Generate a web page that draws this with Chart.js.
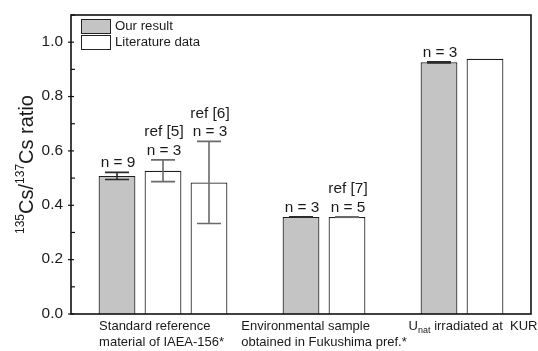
<!DOCTYPE html>
<html><head><meta charset="utf-8">
<script src="https://cdn.jsdelivr.net/npm/chart.js@4"></script>
<style>html,body{margin:0;padding:0;background:#fff}#wrap{width:538px;height:351px}</style>
</head><body><div id="wrap"><canvas id="c" width="538" height="351"></canvas></div>
<script>
// ---- data ----
const slots = ['', 'IAEA-156 our', 'IAEA-156 ref [5]', 'IAEA-156 ref [6]', '', 'Fukushima our', 'Fukushima ref [7]', '', 'KUR our', 'KUR literature', ''];
const ourResult  = [null, 0.508, null, null, null, 0.357, null, null, 0.926, null, null];
const ourError   = [null, 0.013, null, null, null, 0.001, null, null, 0.002, null, null];
const literature = [null, null, 0.527, 0.484, null, null, 0.357, null, null, 0.939, null];
const litError   = [null, null, 0.040, 0.151, null, null, 0.001, null, null, null, null];
const barNotes   = [null, ['n = 9'], ['ref [5]', 'n = 3'], ['ref [6]', 'n = 3'], null, ['n = 3'], ['ref [7]', 'n = 5'], null, ['n = 3'], null, null];
const groupLabels = [
  ['Standard reference', 'material of IAEA-156*'],
  ['Environmental sample', 'obtained in Fukushima pref.*'],
  ['U_{nat} irradiated at  KUR']
];
const groupAnchor = [1.97, 5.5, 8.74];
const seriesNames = ['Our result', 'Literature data'];
const yTitle = [['135', 'sup'], ['Cs/', 'n'], ['137', 'sup'], ['Cs ratio', 'n']];

// ---- helpers ----
const FONT = '"Liberation Sans", Arial, sans-serif';
const SX = 1.1;
function txt(ctx, s, x, y, align, size, sx) {
  sx = sx || SX;
  ctx.save();
  ctx.font = size + 'px ' + FONT;
  const w = ctx.measureText(s).width * sx;
  const x0 = align === 'center' ? x - w / 2 : align === 'right' ? x - w : x;
  ctx.translate(x0, y); ctx.scale(sx, 1);
  ctx.textAlign = 'left';
  ctx.fillText(s, 0, 0);
  ctx.restore();
  return w;
}
function measure(ctx, s, size, sx) { ctx.save(); ctx.font = size + 'px ' + FONT; const w = ctx.measureText(s).width * (sx || SX); ctx.restore(); return w; }
function parseRich(line) {
  const parts = []; const re = /_\{([^}]*)\}/g; let last = 0, m;
  while ((m = re.exec(line))) { if (m.index > last) parts.push([line.slice(last, m.index), 'n']); parts.push([m[1], 'sub']); last = re.lastIndex; }
  if (last < line.length) parts.push([line.slice(last), 'n']);
  return parts;
}

const errorPlugin = {
  id: 'errs',
  afterDatasetsDraw(chart) {
    const ctx = chart.ctx, ys = chart.scales.y;
    const errs = [ourError, litError];
    const cols = ['#2a2a2a', '#6a6a6a'];
    chart.data.datasets.forEach((ds, i) => {
      const meta = chart.getDatasetMeta(i);
      meta.data.forEach((el, j) => {
        const v = ds.data[j], e = errs[i][j];
        if (v == null || e == null) return;
        const yt = ys.getPixelForValue(v + e), yb = ys.getPixelForValue(v - e);
        ctx.save();
        ctx.strokeStyle = cols[i]; ctx.lineWidth = 1.6;
        ctx.beginPath();
        ctx.moveTo(el.x, yt); ctx.lineTo(el.x, yb);
        ctx.moveTo(el.x - 12, yt); ctx.lineTo(el.x + 12, yt);
        ctx.moveTo(el.x - 12, yb); ctx.lineTo(el.x + 12, yb);
        ctx.stroke();
        ctx.restore();
      });
    });
  },
  afterDraw(chart) {
    const ctx = chart.ctx, a = chart.chartArea, xs = chart.scales.x, ys = chart.scales.y;
    ctx.save();
    ctx.fillStyle = '#1a1a1a';
    ctx.textBaseline = 'alphabetic';
    // frame
    ctx.strokeStyle = '#111'; ctx.lineWidth = 1.6;
    ctx.strokeRect(a.left, a.top, a.right - a.left, a.bottom - a.top);
    // y ticks
    ctx.lineWidth = 1.2;
    ys.ticks.forEach(t => {
      const y = ys.getPixelForValue(t.value);
      const major = Math.round(t.value * 10) % 2 === 0;
      ctx.beginPath();
      if (major) { ctx.moveTo(a.left - 3, y); ctx.lineTo(a.left + 3, y); }
      else { ctx.moveTo(a.left, y); ctx.lineTo(a.left + 4, y); }
      ctx.stroke();
      if (major) { ctx.textBaseline = 'middle'; txt(ctx, t.value.toFixed(1), a.left - 8, y, 'right', 14); }
    });
    ctx.textBaseline = 'alphabetic';
    // notes above bars
    const errs = [ourError, litError];
    barNotes.forEach((lines, j) => {
      if (!lines) return;
      let top = -Infinity;
      chart.data.datasets.forEach((ds, i) => { const v = ds.data[j]; if (v != null) top = Math.max(top, v + (errs[i][j] || 0)); });
      const base = ys.getPixelForValue(top) - 5;
      const x = xs.getPixelForValue(j);
      lines.forEach((s, k) => txt(ctx, s, x + 1, base - (lines.length - 1 - k) * 18.5, 'center', 14));
    });
    // x group labels
    groupLabels.forEach((lines, g) => {
      const cx = xs.getPixelForValue(groupAnchor[g]);
      const widths = lines.map(l => parseRich(l).reduce((s, p) => s + measure(ctx, p[0], p[1] === 'sub' ? 9 : 13, 1), 0));
      const left = cx - Math.max(...widths) / 2;
      lines.forEach((l, k) => {
        let x = left; const y = a.bottom + 16 + k * 16;
        parseRich(l).forEach(p => {
          if (p[1] === 'sub') x += txt(ctx, p[0], x, y + 3, 'left', 9, 1);
          else x += txt(ctx, p[0], x, y, 'left', 13, 1);
        });
      });
    });
    // legend
    chart.data.datasets.forEach((ds, i) => {
      const y = a.top + 4 + i * 16;
      ctx.fillStyle = ds.backgroundColor; ctx.fillRect(a.left + 10, y, 29, 14);
      ctx.strokeStyle = '#222'; ctx.lineWidth = 1; ctx.strokeRect(a.left + 10.5, y + 0.5, 29, 14);
      ctx.fillStyle = '#1a1a1a'; ctx.textBaseline = 'middle';
      txt(ctx, ds.label, a.left + 44, y + 7.5, 'left', 12);
    });
    // y title
    ctx.textBaseline = 'alphabetic';
    ctx.translate(33, (a.top + a.bottom) / 2);
    ctx.rotate(-Math.PI / 2);
    const sizes = p => p[1] === 'sup' ? 12 : 20;
    const total = yTitle.reduce((s, p) => s + measure(ctx, p[0], sizes(p), 1), 0);
    let x = -total / 2;
    yTitle.forEach(p => { x += txt(ctx, p[0], x, p[1] === 'sup' ? -9 : 0, 'left', sizes(p), 1); });
    ctx.restore();
  }
};

new Chart(document.getElementById('c'), {
  type: 'bar',
  data: {
    labels: slots,
    datasets: [
      { label: seriesNames[0], data: ourResult, backgroundColor: '#c4c4c4', borderColor: '#1e1e1e', borderWidth: 1.2, barPercentage: 0.8, categoryPercentage: 1.0 },
      { label: seriesNames[1], data: literature, backgroundColor: '#ffffff', borderColor: '#1e1e1e', borderWidth: 1.2, barPercentage: 0.8, categoryPercentage: 1.0 }
    ]
  },
  options: {
    responsive: false, animation: false, devicePixelRatio: 1,
    layout: { padding: { top: 15, right: 7, left: 0, bottom: 0 } },
    plugins: { legend: { display: false }, tooltip: { enabled: false } },
    scales: {
      x: { type: 'category', offset: false, stacked: true, grid: { display: false }, border: { display: false }, ticks: { display: false }, afterFit: s => { s.height = 37; } },
      y: { min: 0, max: 1.1, ticks: { stepSize: 0.1, display: false }, grid: { display: false }, border: { display: false }, afterFit: s => { s.width = 71; } }
    }
  },
  plugins: [errorPlugin]
});
</script></body></html>
